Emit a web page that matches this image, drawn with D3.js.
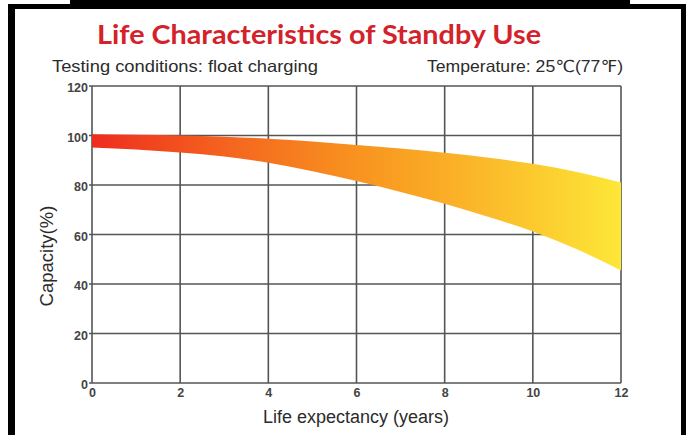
<!DOCTYPE html>
<html>
<head>
<meta charset="utf-8">
<script src="https://cdn.jsdelivr.net/npm/d3@7"></script>
<style>
	body { margin: 0; background: #fff; }
	svg { display: block; }
	.tick text { font-family: "Liberation Sans", Arial, sans-serif; font-weight: bold; font-size: 12.5px; fill: #444; }
</style>
</head>
<body>
<div class="canvas"></div>
<script>

// data
var years = [0, 1, 2, 3, 4, 5, 6, 7, 8, 9, 10, 11, 12];
var upperCapacity = [100.5, 100.3, 100, 99.5, 98.7, 97.6, 96.2, 94.7, 93, 91, 88.6, 85.3, 81];
var lowerCapacity = [95.2, 94.3, 93.1, 91.5, 89, 85.6, 81.6, 77.2, 72.4, 67.1, 61.2, 54, 45.5];
var xTicks = [0, 2, 4, 6, 8, 10, 12];
var yTicks = [0, 20, 40, 60, 80, 100, 120];

var svg = d3.select(".canvas")
				.append("svg")
				.attr("width", 686)
				.attr("height", 435);

var x = d3.scaleLinear().domain([0, 12]).range([92, 621]);
var y = d3.scaleLinear().domain([0, 120]).range([383, 86]);

// FRAME
svg.append("rect").attr("x", 70).attr("y", 0).attr("width", 560).attr("height", 5).attr("fill", "#000");
svg.append("rect").attr("x", 8).attr("y", 4).attr("width", 678).attr("height", 5).attr("fill", "#000");
svg.append("rect").attr("x", 8).attr("y", 4).attr("width", 7).attr("height", 431).attr("fill", "#000");
svg.append("rect").attr("x", 681).attr("y", 4).attr("width", 5).attr("height", 431).attr("fill", "#000");

// GRID
svg.append("g")
	.attr("class", "grid")
	.selectAll("line.h")
	.data(yTicks)
	.enter()
	.append("line")
	.attr("x1", x(0) - 3)
	.attr("x2", x(12))
	.attr("y1", function(d){ return y(d); })
	.attr("y2", function(d){ return y(d); })
	.attr("stroke", "#555")
	.attr("stroke-width", 1.6);

svg.select(".grid")
	.selectAll("line.v")
	.data(xTicks)
	.enter()
	.append("line")
	.attr("x1", function(d){ return x(d); })
	.attr("x2", function(d){ return x(d); })
	.attr("y1", y(120))
	.attr("y2", y(0))
	.attr("stroke", "#555")
	.attr("stroke-width", 1.6);

// AXES (labels only, lines are the grid)
var yAxis = svg.append("g")
	.attr("transform", "translate(" + (x(0) - 3) + ",0)")
	.call(d3.axisLeft(y).tickValues(yTicks).tickSize(0).tickPadding(1));
yAxis.select(".domain").remove();
yAxis.selectAll(".tick text").attr("dy", "0.45em");

var xAxis = svg.append("g")
	.attr("transform", "translate(0," + y(0) + ")")
	.call(d3.axisBottom(x).tickValues(xTicks).tickSize(0).tickPadding(5));
xAxis.select(".domain").remove();

// BAND
var grad = svg.append("defs")
	.append("linearGradient")
	.attr("id", "bandFill")
	.attr("gradientUnits", "userSpaceOnUse")
	.attr("x1", x(0)).attr("x2", x(12))
	.attr("y1", 0).attr("y2", 0);

grad.append("stop").attr("offset", "0%").attr("stop-color", "#ee2c1f");
grad.append("stop").attr("offset", "25%").attr("stop-color", "#f4631f");
grad.append("stop").attr("offset", "50%").attr("stop-color", "#f8931f");
grad.append("stop").attr("offset", "75%").attr("stop-color", "#fbbb2a");
grad.append("stop").attr("offset", "100%").attr("stop-color", "#fde737");

var area = d3.area()
	.x(function(d, i){ return x(years[i]); })
	.y0(function(d, i){ return y(lowerCapacity[i]); })
	.y1(function(d, i){ return y(upperCapacity[i]); })
	.curve(d3.curveMonotoneX);

svg.append("path")
	.datum(years)
	.attr("d", area)
	.attr("fill", "url(#bandFill)");

// TEXT
svg.append("text")
	.attr("x", 97)
	.attr("y", 44)
	.attr("textLength", 444)
	.attr("lengthAdjust", "spacingAndGlyphs")
	.style("font-family", "Lato, 'Open Sans', sans-serif")
	.style("font-weight", "bold")
	.style("font-size", "26px")
	.style("fill", "#d4222b")
	.text("Life Characteristics of Standby Use");

svg.append("text")
	.attr("x", 52)
	.attr("y", 72)
	.attr("textLength", 266)
	.attr("lengthAdjust", "spacingAndGlyphs")
	.style("font-family", "'Liberation Sans', Arial, sans-serif")
	.style("font-size", "16.5px")
	.style("fill", "#2b2b2b")
	.text("Testing conditions: float charging");

svg.append("text")
	.attr("x", 427)
	.attr("y", 72)
	.attr("textLength", 196)
	.attr("lengthAdjust", "spacingAndGlyphs")
	.style("font-family", "'Liberation Sans', 'DejaVu Sans', Arial, sans-serif")
	.style("font-size", "16.5px")
	.style("fill", "#2b2b2b")
	.text("Temperature: 25\u2103(77\u2109)");

svg.append("text")
	.attr("x", 356)
	.attr("y", 423)
	.attr("text-anchor", "middle")
	.style("font-family", "'Liberation Sans', Arial, sans-serif")
	.style("font-size", "18px")
	.style("fill", "#2b2b2b")
	.text("Life expectancy (years)");

svg.append("text")
	.attr("transform", "translate(53,256) rotate(-90)")
	.attr("text-anchor", "middle")
	.style("font-family", "'Liberation Sans', Arial, sans-serif")
	.style("font-size", "18.5px")
	.style("fill", "#2b2b2b")
	.text("Capacity(%)");

</script>
</body>
</html>
